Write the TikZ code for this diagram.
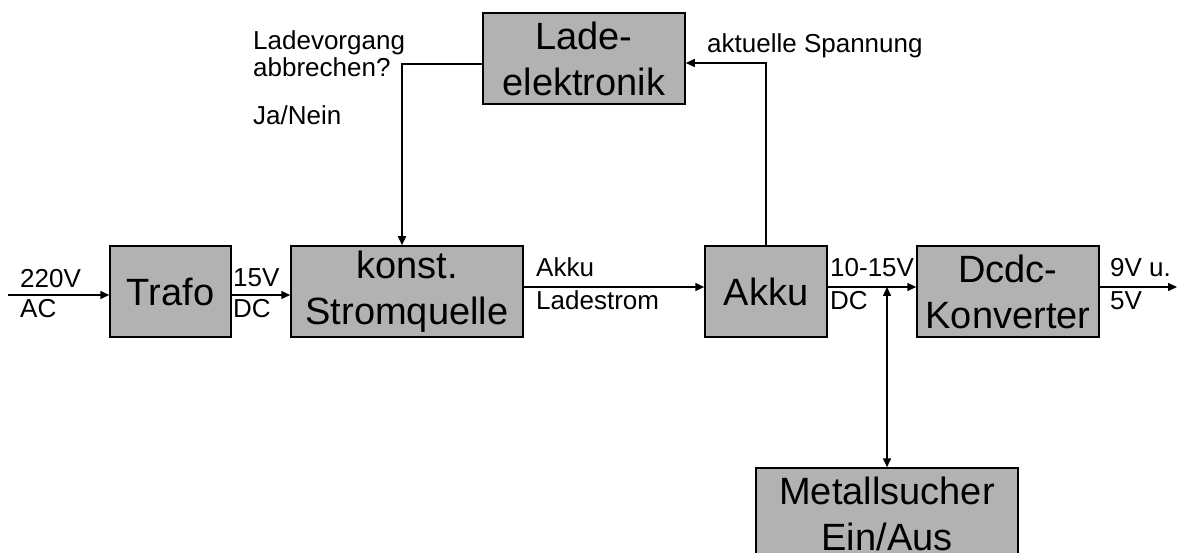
\documentclass[tikz,border=0pt]{standalone}
\usepackage{fontspec}
\setmainfont{Liberation Sans}
\usetikzlibrary{arrows.meta}
\definecolor{boxgray}{RGB}{178,178,178}
\tikzset{
  blk/.style={draw=black, line width=1.5pt, fill=boxgray, inner sep=0pt, align=center,
    font=\fontsize{38}{46}\selectfont, minimum height=91pt},
  lbl/.style={inner sep=0pt, anchor=base west, font=\fontsize{26}{30}\selectfont},
  conn/.style={line width=1.5pt, -{Triangle[length=9pt,width=8pt]}},
  conn2/.style={line width=1.5pt, {Triangle[length=9pt,width=8pt]}-{Triangle[length=9pt,width=8pt]}}
}
\begin{document}
\begin{tikzpicture}[x=1pt,y=-1pt]
\useasboundingbox (0,0) rectangle (1178,553);
\begin{scope}
\clip (0,0) rectangle (1178,553);
% blocks
\node[blk, minimum width=121pt] (trafo) at (170.5,291.5) {Trafo};
\node[blk, minimum width=232pt] (konst) at (407,291.5) {konst.\\Stromquelle};
\node[blk, minimum width=122pt] (akku) at (766,291.5) {Akku};
\node[blk, minimum width=182pt] (dcdc) at (1008,291.5) {Dcdc-\\Konverter};
\node[blk, minimum width=202pt] (lade) at (584,58.5) {Lade-\\elektronik};
\node[blk, minimum width=262pt] (metall) at (887,513.5) {Metallsucher\\Ein/Aus};
% free ends
\coordinate (in) at (8,295);
\coordinate (out) at (1177,287);
\coordinate (akout) at ([yshift=4.5pt]akku.east);
% connectors
\draw[conn] (in) -- (in -| trafo.west);
\draw[conn] ([yshift=-3.5pt]trafo.east) -- ([yshift=-3.5pt]konst.west);
\draw[conn] ([yshift=4.5pt]konst.east) -- ([yshift=4.5pt]akku.west);
\draw[conn] (akout) -- ([yshift=4.5pt]dcdc.west);
\draw[conn] ([yshift=4.5pt]dcdc.east) -- (out);
\draw[conn] ([yshift=-5.5pt]lade.west) -| ([xshift=-5pt]konst.north);
\draw[conn] (akku.north) |- ([yshift=-4.5pt]lade.east);
\draw[conn2] (metall.north) -- (metall.north |- akout);
\end{scope}
% labels
\node[lbl] (l220) at (20,288) {220V};
\node[lbl] (lac) at (20,318) {AC};
\node[lbl] (l15) at (233,287) {15V};
\node[lbl] (ldc1) at (233,318) {DC};
\node[lbl] (lakku) at (536,277) {Akku};
\node[lbl] (llade) at (536,310) {Ladestrom};
\node[lbl] (l1015) at (830,277) {10-15V};
\node[lbl] (ldc2) at (830,310) {DC};
\node[lbl] (l9v) at (1110,277) {9V u.};
\node[lbl] (l5v) at (1110,310) {5V};
\node[lbl] (lvg) at (253,50) {Ladevorgang};
\node[lbl] (labb) at (253,77) {abbrechen?};
\node[lbl] (lja) at (253,125) {Ja/Nein};
\node[lbl] (lakt) at (707,53) {aktuelle Spannung};
\end{tikzpicture}
\end{document}
